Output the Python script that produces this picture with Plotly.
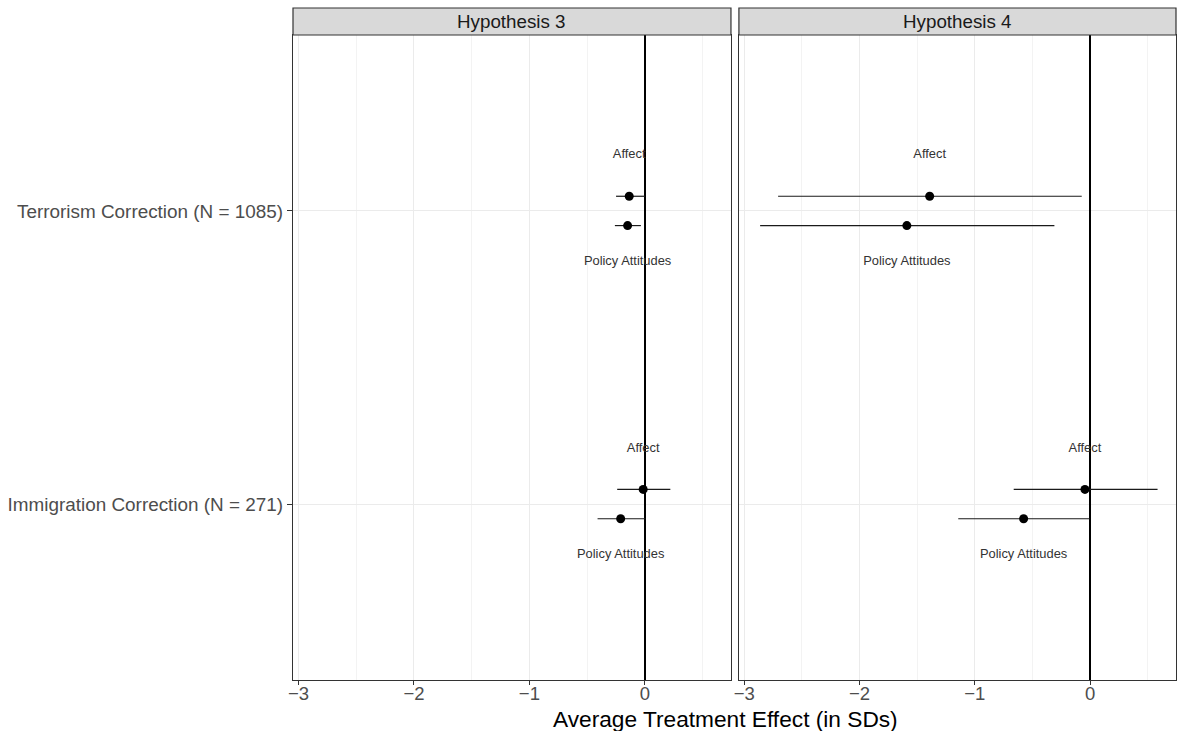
import plotly.graph_objects as go

# ---- data ----
rows = ["Terrorism Correction (N = 1085)", "Immigration Correction (N = 271)"]
panels = ["Hypothesis 3", "Hypothesis 4"]
outcomes = ["Affect", "Policy Attitudes"]

h3_affect_est = [-0.136, -0.015]
h3_affect_lo = [-0.25, -0.24]
h3_affect_hi = [0.0, 0.22]
h3_policy_est = [-0.15, -0.21]
h3_policy_lo = [-0.26, -0.41]
h3_policy_hi = [-0.035, 0.005]

h4_affect_est = [-1.392, -0.045]
h4_affect_lo = [-2.707, -0.663]
h4_affect_hi = [-0.073, 0.585]
h4_policy_est = [-1.59, -0.577]
h4_policy_lo = [-2.863, -1.144]
h4_policy_hi = [-0.31, -0.004]

x_ticks = [-3, -2, -1, 0]
x_tick_text = ["\u22123", "\u22122", "\u22121", "0"]

# ---- layout / style ----
FONT = "Liberation Sans, Arial, Helvetica, sans-serif"
row_pos = [2, 1]
dodge = {"Affect": 0.05, "Policy Attitudes": -0.05}
label_off = {"Affect": 0.19, "Policy Attitudes": -0.173}

panel_data = [
    {"Affect": (h3_affect_est, h3_affect_lo, h3_affect_hi),
     "Policy Attitudes": (h3_policy_est, h3_policy_lo, h3_policy_hi)},
    {"Affect": (h4_affect_est, h4_affect_lo, h4_affect_hi),
     "Policy Attitudes": (h4_policy_est, h4_policy_lo, h4_policy_hi)},
]

fig = go.Figure()
for p, pdata in enumerate(panels):
    xa = "x" if p == 0 else "x2"
    ya = "y" if p == 0 else "y2"
    for oc in outcomes:
        est, lo, hi = panel_data[p][oc]
        ys = [r + dodge[oc] for r in row_pos]
        fig.add_trace(go.Scatter(
            x=est, y=ys, mode="markers", xaxis=xa, yaxis=ya,
            marker=dict(color="black", size=9),
            error_x=dict(type="data", symmetric=False,
                         array=[h - e for h, e in zip(hi, est)],
                         arrayminus=[e - l for e, l in zip(est, lo)],
                         color="#1a1a1a", thickness=1.2, width=0),
            showlegend=False, hoverinfo="skip"))
        fig.add_trace(go.Scatter(
            x=est, y=[r + label_off[oc] for r in row_pos], mode="text",
            text=[oc] * len(est), textposition="middle center",
            textfont=dict(family=FONT, size=12.9, color="#333333"),
            xaxis=xa, yaxis=ya, showlegend=False, hoverinfo="skip"))

xcommon = dict(
    range=[-3.047, 0.745], tickvals=x_ticks, ticktext=x_tick_text,
    showgrid=True, gridcolor="#EBEBEB", gridwidth=1.1,
    minor=dict(tick0=0.5, dtick=1, showgrid=True, gridcolor="#F3F3F3", gridwidth=0.6, ticks=""),
    zeroline=True, zerolinecolor="black", zerolinewidth=1.5,
    showline=True, mirror=True, linecolor="#333333", linewidth=1.2,
    ticks="outside", ticklen=4, tickcolor="#333333", tickwidth=1.1,
    ticklabelstandoff=-7,
    tickfont=dict(family=FONT, size=18.5, color="#4D4D4D"),
)
ycommon = dict(
    range=[0.4, 2.6], domain=[0, 0.9598],
    showgrid=True, gridcolor="#EBEBEB", gridwidth=1.1, zeroline=False,
    showline=True, mirror=True, linecolor="#333333", linewidth=1.2,
)

fig.update_layout(
    width=1177, height=731,
    margin=dict(l=293, r=1, t=8, b=51),
    paper_bgcolor="white", plot_bgcolor="white",
    font=dict(family=FONT),
    xaxis=dict(domain=[0, 0.496], anchor="y", **xcommon),
    xaxis2=dict(domain=[0.505, 1], anchor="y2", **xcommon),
    yaxis=dict(anchor="x", tickvals=row_pos, ticktext=rows,
               ticks="outside", ticklen=5, tickcolor="#333333", tickwidth=1.1,
               tickfont=dict(family=FONT, size=18.9, color="#4D4D4D"), **ycommon),
    yaxis2=dict(anchor="x2", tickvals=row_pos, showticklabels=False, ticks="", **ycommon),
)

for p, name in enumerate(panels):
    xr = "x domain" if p == 0 else "x2 domain"
    fig.add_shape(type="rect", xref=xr, yref="paper", x0=0, x1=1, y0=0.9598, y1=1,
                  fillcolor="#D9D9D9", line=dict(color="#333333", width=1.2), layer="above")
    fig.add_annotation(text=name, xref=xr, yref="paper", x=0.5, y=0.98,
                       showarrow=False, xanchor="center", yanchor="middle",
                       font=dict(family=FONT, size=18.8, color="#1A1A1A"))

fig.add_annotation(text="Average Treatment Effect (in SDs)", xref="paper", yref="paper",
                   x=0.49, y=0, yshift=-24, xanchor="center", yanchor="top", showarrow=False,
                   font=dict(family=FONT, size=22.7, color="black"))

fig.write_html("out.html")
